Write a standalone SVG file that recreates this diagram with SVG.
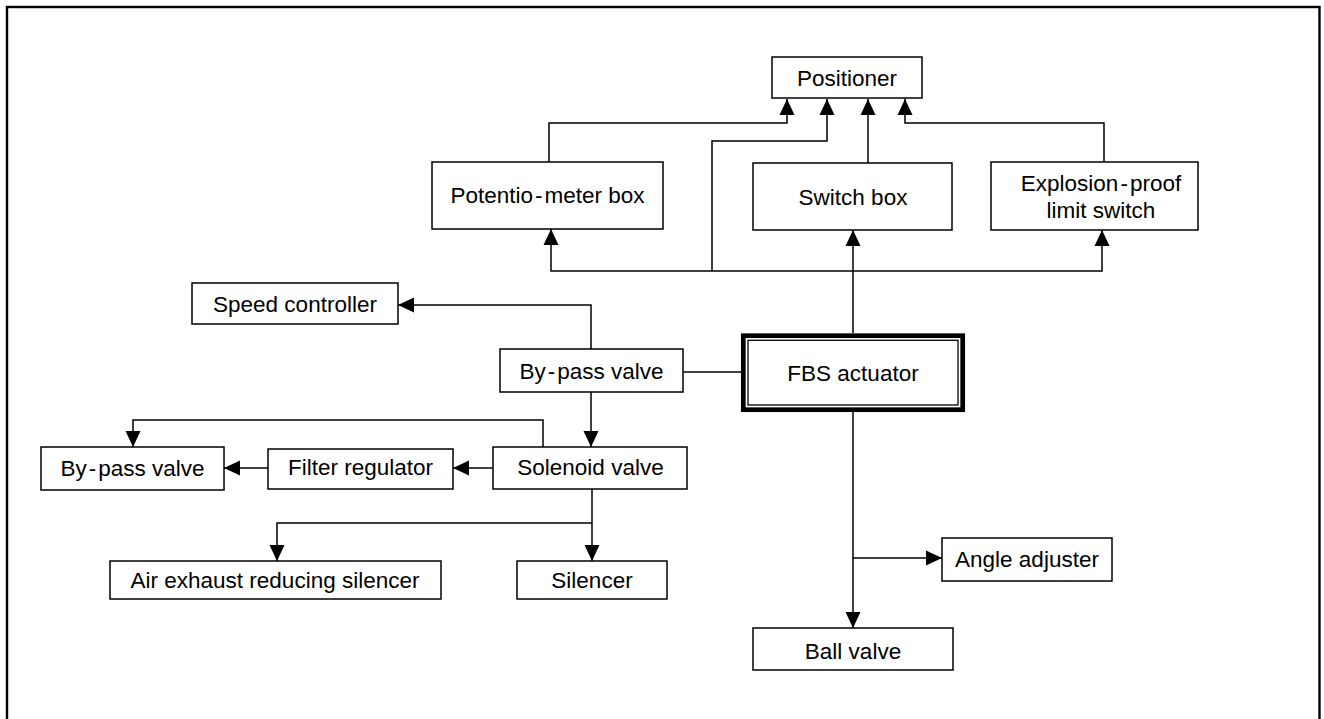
<svg xmlns="http://www.w3.org/2000/svg" width="1324" height="719" viewBox="0 0 1324 719">
<style>
.box{fill:#fff;stroke:#000;stroke-width:1.5}
.t{font-family:"Liberation Sans",Arial,sans-serif;font-size:22.5px;fill:#000;text-anchor:middle}
.c{fill:none;stroke:#000;stroke-width:1.5}
.a{marker-end:url(#ah)}
</style>
<defs>
<marker id="ah" markerUnits="userSpaceOnUse" markerWidth="17" markerHeight="16" refX="16" refY="8" orient="auto">
<path d="M0,0.5 L16,8 L0,15.5 z" fill="#000"/>
</marker>
</defs>
<rect x="0" y="0" width="1324" height="719" fill="#fff"/>
<rect x="7" y="7" width="1312.5" height="800" fill="none" stroke="#000" stroke-width="2.4"/>
<g id="connectors">
<path class="c a" d="M549,162 V123 H787 V99"/>
<path class="c a" d="M712,271 V141 H827 V99"/>
<path class="c a" d="M868,163 V99"/>
<path class="c a" d="M1104,162 V123 H905 V99"/>
<path class="c a" d="M712,271 H551 V229"/>
<path class="c a" d="M712,271 H1102 V230"/>
<path class="c a" d="M853,333 V230"/>
<path class="c a" d="M591,349 V305 H398"/>
<path class="c" d="M683,372 H741"/>
<path class="c a" d="M591,392 V447"/>
<path class="c a" d="M543,447 V420 H133 V447"/>
<path class="c a" d="M493,468 H453"/>
<path class="c a" d="M268,468 H224"/>
<path class="c a" d="M592,489 V561"/>
<path class="c a" d="M592,523 H277 V561"/>
<path class="c a" d="M853,412 V628"/>
<path class="c a" d="M853,558 H942"/>
</g>
<g id="positioner"><rect class="box" x="772" y="57" width="150" height="41"/><text class="t" x="847" y="86">Positioner</text></g>
<g id="potentiometer"><rect class="box" x="432" y="162" width="231" height="67"/><text class="t" x="547.5" y="203">Potentio<tspan dx="2">-</tspan><tspan dx="2">meter box</tspan></text></g>
<g id="switchbox"><rect class="box" x="753" y="163" width="199" height="67"/><text class="t" x="853" y="205">Switch box</text></g>
<g id="explosion"><rect class="box" x="991" y="162" width="207" height="68"/><text class="t" x="1101" y="191">Explosion<tspan dx="2">-</tspan><tspan dx="2">proof</tspan></text><text class="t" x="1101" y="218">limit switch</text></g>
<g id="speed"><rect class="box" x="192" y="283" width="206" height="41"/><text class="t" x="295" y="312">Speed controller</text></g>
<g id="bypass1"><rect class="box" x="500" y="349" width="183" height="43"/><text class="t" x="591.5" y="379">By<tspan dx="2">-</tspan><tspan dx="2">pass valve</tspan></text></g>
<g id="fbs"><rect x="743.3" y="335.7" width="219.4" height="74" fill="#fff" stroke="#000" stroke-width="4.7"/><rect x="748" y="340.3" width="210" height="64.7" fill="none" stroke="#000" stroke-width="1.3"/><text class="t" x="853" y="381">FBS actuator</text></g>
<g id="solenoid"><rect class="box" x="493" y="447" width="194" height="42"/><text class="t" x="590.5" y="475">Solenoid valve</text></g>
<g id="filter"><rect class="box" x="268" y="449" width="185" height="40"/><text class="t" x="360.5" y="475">Filter regulator</text></g>
<g id="bypass2"><rect class="box" x="41" y="447" width="183" height="43"/><text class="t" x="132.5" y="476">By<tspan dx="2">-</tspan><tspan dx="2">pass valve</tspan></text></g>
<g id="airexhaust"><rect class="box" x="110" y="561" width="331" height="38"/><text class="t" x="275" y="588">Air exhaust reducing silencer</text></g>
<g id="silencer"><rect class="box" x="517" y="561" width="150" height="38"/><text class="t" x="592" y="588">Silencer</text></g>
<g id="angle"><rect class="box" x="942" y="538" width="170" height="43"/><text class="t" x="1027" y="567">Angle adjuster</text></g>
<g id="ball"><rect class="box" x="753" y="628" width="200" height="42"/><text class="t" x="853" y="659">Ball valve</text></g>
</svg>
